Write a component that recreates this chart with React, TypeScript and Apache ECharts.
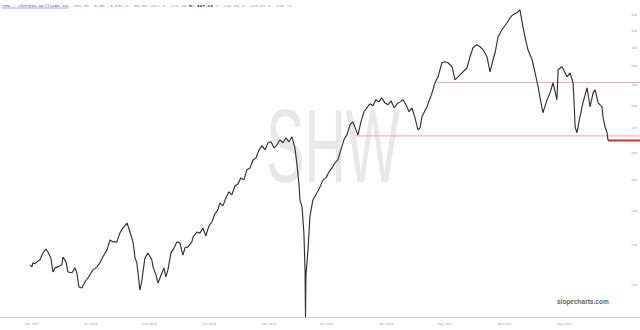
import React, { useEffect, useRef } from "react";
import * as echarts from "echarts";

// weeks since 1 Dec 2017 (x) and closing prices (y)
const weeks = [
  0, 0.9, 1.3, 2.2, 3.0, 4.3, 5.7, 7.0, 7.8, 9.1, 10.0, 10.9, 12.2, 13.9, 14.3, 15.7, 16.5, 18.3, 19.6, 20.4,
  21.3, 22.6, 23.9, 25.2, 27.4, 29.1, 30.4, 31.7, 33.5, 34.8, 36.1, 37.8, 39.1, 40.4, 42.2, 43.5, 44.8, 45.7, 46.5, 47.8,
  48.7, 50.0, 51.3, 53.0, 53.5, 54.8, 55.7, 57.4, 58.3, 59.1, 60.0, 61.3, 62.2, 63.9, 65.2, 66.5, 67.4, 68.7, 70.4, 70.9,
  72.6, 73.9,
  75.2, 76.5, 77.8, 79.1, 80.4, 81.7, 82.6, 83.9, 85.2, 86.5, 87.8, 89.1, 90.4, 91.7, 93.0, 94.3, 95.7, 97.0, 98.3, 99.6,
  100.9, 102.2, 103.5, 104.8, 106.1, 107.4, 108.7, 110.0, 111.3, 112.6, 113.9, 115.2, 116.1, 117.0, 117.4, 118.3, 119.1, 119.6, 119.8, 120.0,
  120.9, 121.7, 123.0, 124.3, 126.1, 127.4,
  128.7, 130.0, 131.3, 132.6, 133.9, 135.2, 136.5, 137.8, 139.1, 140.4, 141.7, 142.6, 143.9, 145.2, 146.5, 147.8, 149.1, 150.4, 151.7, 153.0,
  154.3, 155.7, 157.0, 158.3, 159.6, 160.9, 162.2, 163.5, 164.8, 166.1, 167.4, 168.7, 169.6,
  170.4, 172.6, 174.8, 176.1, 177.4, 179.1, 180.4, 181.7, 183.5, 184.8, 186.1, 187.8, 190.0, 191.3, 192.6, 194.3, 195.7, 197.0, 198.7, 200.0,
  201.3, 202.2, 203.5, 205.2, 207.4, 208.7, 210.0, 211.7, 213.0, 214.3, 215.2, 216.5, 218.3, 219.6, 220.9, 221.7, 223.0, 224.8, 226.1, 227.4,
  229.1, 229.6, 231.3, 233.5, 234.8, 236.1, 236.5, 237.0, 237.8, 239.1, 240.4, 242.2, 243.5, 244.8, 245.7, 247.0, 248.7, 249.1, 250.0, 250.9,
  251.3,
];

const closes = [
  129.7, 128.7, 130.7, 130.2, 131.2, 132.2, 135.8, 137.9, 136.3, 133.2, 126.2, 128.2, 128.7, 129.7, 133.7, 131.2, 126.2, 125.8, 128.2, 125.8,
  119.1, 118.6, 121.4, 123.3, 127.2, 128.7, 130.7, 133.7, 137.4, 142.8, 141.7, 141.7, 146.6, 149.5, 152.4, 147.2, 141.7, 133.2, 130.7, 117.7,
  122.3, 133.2, 135.8, 132.2, 128.7, 124.8, 120.9, 125.8, 128.2, 123.8, 127.2, 135.8, 137.4, 141.7, 141.1, 134.7, 138.5, 139.0, 141.7, 144.4,
  147.2, 146.6,
  149.5, 145.0, 150.6, 153.0, 157.8, 160.3, 164.7, 162.8, 167.9, 171.9, 169.9, 175.8, 177.2, 181.4, 180.0, 187.1, 188.5, 194.4, 196.0, 202.1,
  205.3, 202.1, 207.7, 208.5, 203.7, 206.1, 210.1, 207.7, 211.7, 208.5, 212.5, 203.7, 190.7, 176.5, 166.6, 162.1, 146.6, 127.2, 106.1, 124.8,
  137.4, 156.0, 166.6, 169.9, 175.2, 180.0,
  181.4, 185.6, 188.5, 192.2, 194.4, 202.1, 210.1, 214.1, 222.6, 225.2, 218.3, 214.1, 225.2, 234.1, 237.7, 241.4, 239.5, 245.1, 243.2, 247.0,
  242.3, 240.5, 244.2, 237.7, 241.4, 243.2, 245.1, 240.5, 234.1, 237.7, 228.7, 218.3, 220.0,
  229.6, 238.6, 251.8, 261.8, 267.9, 282.8, 283.9, 282.8, 278.5, 264.8, 267.9, 272.0, 277.4, 289.4, 299.7, 303.1, 300.8, 297.3, 289.4, 273.1,
  286.1, 293.9, 312.6, 321.2, 330.0, 336.5, 340.4, 343.0, 347.0, 325.0, 312.6, 297.3, 286.1, 272.0, 257.8, 248.0, 233.2, 245.1, 251.8, 261.8,
  245.1, 275.2, 278.5, 267.9, 272.0, 261.8, 245.1, 220.9, 215.8, 229.6, 242.3, 256.8, 238.6, 251.8, 254.8, 242.3, 238.6, 229.6, 220.9, 215.8,
  209.55,
];

const xTickWeeks = [1, 26.5, 52, 78, 104, 129, 155, 180.5, 206.5, 232.5];
const xTickLabels = ["Dec 2017", "Jun 2018", "Dec 2018", "Jun 2019", "Dec 2019", "Jun 2020", "Nov 2020", "May 2021", "Nov 2021", "May 2022"];
const yTickPrices = [120, 140, 160, 180, 200, 220, 240, 260, 280, 300, 320, 340];

const levelPrices = [262.1, 213.3];
const levelStartWeeks = [177, 141.3];
const lastPrice = 209.55;
const lastWeek = 251.3;

const X_MIN = -13;
const X_MAX = 265.2;
const Y_MIN = 2.02558;
const Y_MAX = 2.55661;

export default function App() {
  const ref = useRef<HTMLDivElement>(null);
  useEffect(() => {
    const chart = echarts.init(ref.current!, null, { renderer: "svg" });
    const lg = (p: number) => Math.log10(p);
    const option: any = {
      animation: false,
      backgroundColor: "#ffffff",
      grid: { left: 0, right: 0, top: 0, bottom: 13 },
      xAxis: {
        type: "value",
        min: X_MIN,
        max: X_MAX,
        axisLine: { show: true, lineStyle: { color: "#cfcfcf", width: 1 } },
        axisTick: { show: false },
        splitLine: { show: false },
        axisLabel: {
          customValues: xTickWeeks,
          formatter: (v: number) => {
            const i = xTickWeeks.findIndex((w) => Math.abs(w - v) < 0.01);
            return i >= 0 ? xTickLabels[i] : "";
          },
          fontSize: 3,
          color: "#999",
          margin: 5,
          fontFamily: "DejaVu Sans",
        },
      },
      yAxis: {
        type: "value",
        position: "right",
        min: Y_MIN,
        max: Y_MAX,
        axisLine: { show: false },
        axisTick: { show: false },
        splitLine: { show: false },
        axisLabel: {
          inside: true,
          customValues: yTickPrices.map(lg),
          formatter: (v: number) => String(Math.round(Math.pow(10, v))),
          fontSize: 3,
          color: "#999",
          margin: 3,
          fontFamily: "DejaVu Sans",
        },
      },
      graphic: [
        {
          type: "group",
          x: 333,
          y: 146,
          scaleX: 0.55,
          scaleY: 1,
          z: -10,
          silent: true,
          children: [
            {
              type: "text",
              x: 0,
              y: 0,
              z: -10,
              style: {
                text: "SHW",
                align: "center",
                verticalAlign: "middle",
                fill: "#e8e8e8",
                font: "normal 104px 'Liberation Sans', sans-serif",
              },
            },
          ],
        },
        {
          type: "text",
          x: 2,
          y: 3,
          z: 10,
          style: {
            text:
              "{a|SHW - Sherwin-Williams Co.}{g| 209.55 }{r|-6.55 -3.03%}{g| D: 09/30/2022 O: 226.09 }{k|H: 227.13}{g| L: 219.00 C: 219.91 V: 348.74}",
            font: "4.4px 'Liberation Mono', monospace",
            fill: "#999",
            rich: {
              a: { fill: "#3a4fd0", font: "4.4px 'Liberation Mono', monospace" },
              g: { fill: "#a0a0a0", font: "4.4px 'Liberation Mono', monospace" },
              r: { fill: "#e07a55", font: "4.4px 'Liberation Mono', monospace" },
              k: { fill: "#222", font: "bold 4.4px 'Liberation Mono', monospace" },
            },
          },
        },
        {
          type: "line",
          z: 10,
          shape: { x1: 2, y1: 8, x2: 68, y2: 8 },
          style: { stroke: "#3a4fd0", lineWidth: 0.5 },
        },
        {
          type: "text",
          x: 557,
          y: 301,
          z: 10,
          style: {
            text: "slopecharts.com",
            fill: "#666",
            font: "bold 6.5px 'Liberation Sans', sans-serif",
            verticalAlign: "middle",
          },
        },
      ],
      series: [
        {
          type: "line",
          data: weeks.map((w, i) => [w, lg(closes[i])]),
          symbol: "none",
          z: 5,
          lineStyle: { color: "#2f332f", width: 1.15 },
        },
        ...levelPrices.map((p, i) => ({
          type: "line",
          data: [
            [levelStartWeeks[i], lg(p)],
            [X_MAX, lg(p)],
          ],
          symbol: "none",
          z: 3,
          lineStyle: { color: "#f2a3a3", width: 1 },
        })),
        {
          type: "line",
          data: [
            [lastWeek, lg(lastPrice)],
            [X_MAX, lg(lastPrice)],
          ],
          symbol: "none",
          z: 4,
          lineStyle: { color: "#d93030", width: 2 },
        },
      ],
    };
    chart.setOption(option);
    return () => chart.dispose();
  }, []);
  return (
    <div
      ref={ref}
      style={{ position: "fixed", left: 0, top: 0, width: 640, height: 330, background: "#fff" }}
    />
  );
}
